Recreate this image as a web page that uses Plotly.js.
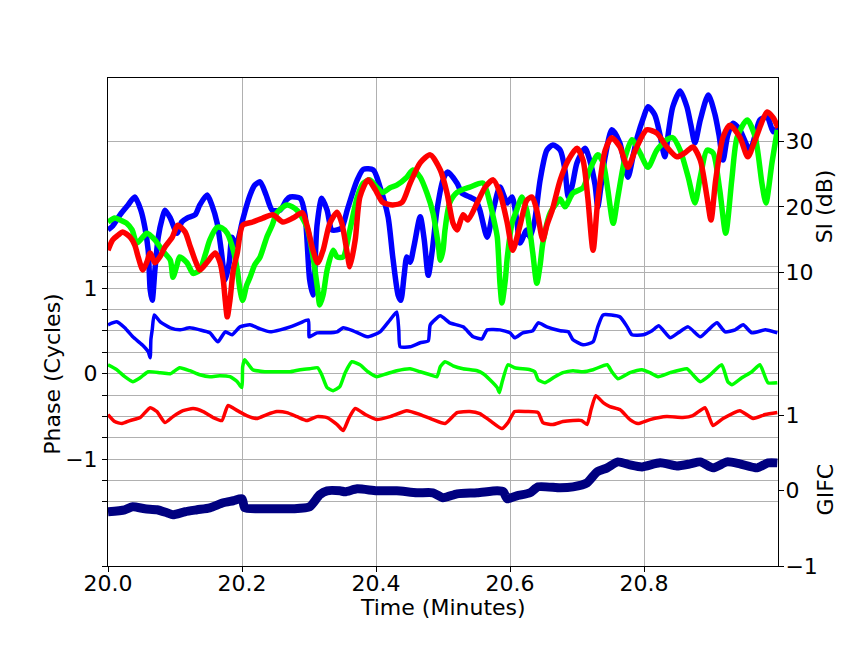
<!DOCTYPE html>
<html><head><meta charset="utf-8">
<script src="https://cdn.plot.ly/plotly-3.0.1.min.js"></script>
<style>html,body{margin:0;padding:0;background:#fff}#chart{width:864px;height:648px}</style>
</head><body><div id="chart"></div>
<script>
// ---- SI (dB) series ----
const siBlueT = [20.000,20.007,20.018,20.030,20.040,20.049,20.055,20.060,20.063,20.066,20.070,20.075,20.081,20.085,20.093,20.103,20.110,20.118,20.130,20.137,20.148,20.155,20.163,20.169,20.175,20.181,20.185,20.190,20.194,20.201,20.212,20.219,20.227,20.236,20.245,20.257,20.266,20.272,20.287,20.294,20.301,20.306,20.312,20.319,20.327,20.334,20.342,20.349,20.357,20.364,20.372,20.381,20.396,20.406,20.418,20.425,20.433,20.437,20.442,20.446,20.451,20.457,20.466,20.472,20.478,20.484,20.491,20.500,20.507,20.521,20.528,20.540,20.549,20.555,20.566,20.575,20.585,20.596,20.603,20.610,20.615,20.625,20.630,20.637,20.645,20.655,20.664,20.675,20.682,20.687,20.693,20.700,20.712,20.719,20.727,20.731,20.736,20.742,20.752,20.764,20.776,20.784,20.790,20.799,20.806,20.816,20.824,20.831,20.837,20.843,20.854,20.864,20.870,20.876,20.884,20.896,20.906,20.912,20.918,20.925,20.933,20.943,20.958,20.966,20.973,20.984,20.993,21.000];
const siBlue = [16.5,17.1,18.8,20.3,21.5,19.5,16.9,13.4,7.4,5.8,10.4,15.4,18.3,19.5,18.3,16.0,17.7,18.3,18.8,20.3,21.8,20.3,17.5,13.4,8.9,11.6,15.4,14.2,15.0,18.0,21.8,23.3,23.8,21.8,19.5,19.5,21.0,21.5,21.3,18.8,8.9,6.6,17.2,21.3,19.5,16.5,16.5,16.8,19.5,21.8,24.1,25.7,25.6,23.0,18.5,12.4,6.6,5.8,9.6,12.4,11.6,14.2,18.5,15.0,9.6,13.4,19.5,24.1,25.3,23.6,22.1,21.5,21.0,19.5,15.4,19.5,23.0,20.6,21.5,18.0,14.5,16.5,15.4,18.0,24.1,28.6,29.4,28.6,25.6,21.5,23.3,26.7,28.9,27.1,23.3,20.0,23.3,27.6,31.7,29.7,24.5,27.9,30.6,33.5,35.2,34.0,30.9,27.6,31.7,35.2,37.6,35.2,32.4,29.7,33.2,37.0,34.0,30.9,27.1,30.9,32.7,31.7,28.6,30.9,33.2,33.6,31.4,32.1];

const siGreenT = [20.000,20.010,20.018,20.028,20.036,20.043,20.051,20.058,20.070,20.081,20.093,20.097,20.103,20.107,20.118,20.127,20.137,20.145,20.152,20.163,20.170,20.178,20.187,20.193,20.197,20.201,20.207,20.212,20.219,20.227,20.237,20.245,20.252,20.267,20.282,20.297,20.306,20.313,20.316,20.321,20.327,20.336,20.342,20.351,20.361,20.372,20.381,20.391,20.401,20.410,20.421,20.431,20.446,20.455,20.466,20.476,20.485,20.493,20.496,20.500,20.503,20.510,20.521,20.540,20.560,20.570,20.576,20.581,20.585,20.588,20.593,20.596,20.603,20.610,20.618,20.625,20.634,20.640,20.645,20.649,20.660,20.670,20.675,20.682,20.694,20.709,20.719,20.731,20.739,20.746,20.754,20.761,20.772,20.782,20.794,20.806,20.819,20.834,20.843,20.854,20.866,20.876,20.884,20.894,20.903,20.913,20.922,20.931,20.939,20.954,20.966,20.976,20.982,20.991,20.999];
const siGreen = [17.7,18.3,18.0,17.5,16.5,14.5,15.3,16.0,15.0,13.4,11.9,9.3,11.2,12.4,11.5,9.9,10.4,12.7,15.0,16.9,16.8,16.0,13.4,10.4,7.4,5.8,8.1,9.3,11.2,12.4,15.4,17.2,19.1,20.3,19.5,16.9,12.4,7.4,5.1,6.6,10.4,13.4,12.4,12.4,16.5,21.5,23.6,24.1,23.0,22.2,22.9,23.3,24.5,25.6,24.5,22.1,19.1,14.2,11.9,13.4,16.5,20.6,22.2,23.0,23.6,20.6,18.0,15.4,8.4,5.4,8.9,12.4,17.5,19.5,21.5,19.5,13.0,8.4,11.2,14.5,19.1,20.6,21.2,20.0,22.1,22.9,25.6,27.9,26.7,22.6,17.5,21.5,27.6,30.2,28.2,26.0,28.6,30.2,30.5,28.6,24.5,20.6,24.5,28.6,28.2,22.6,16.0,24.1,30.6,33.2,30.6,23.6,20.6,26.7,31.7];

const siRedT = [20.000,20.007,20.015,20.022,20.033,20.040,20.045,20.052,20.058,20.063,20.070,20.078,20.085,20.096,20.104,20.115,20.122,20.130,20.137,20.148,20.160,20.167,20.172,20.175,20.178,20.182,20.187,20.193,20.201,20.216,20.231,20.246,20.261,20.276,20.290,20.297,20.306,20.313,20.321,20.331,20.342,20.349,20.357,20.361,20.369,20.376,20.388,20.399,20.410,20.425,20.439,20.451,20.466,20.481,20.496,20.506,20.515,20.521,20.530,20.537,20.551,20.563,20.575,20.585,20.596,20.604,20.615,20.625,20.633,20.640,20.649,20.655,20.663,20.675,20.687,20.700,20.709,20.716,20.724,20.731,20.742,20.752,20.764,20.776,20.787,20.804,20.819,20.834,20.849,20.861,20.873,20.884,20.894,20.900,20.907,20.918,20.928,20.943,20.955,20.966,20.984,20.993,21.000];
const siRed = [13.4,15.0,15.7,16.2,15.4,14.2,12.4,10.4,11.6,13.0,11.5,12.5,13.9,15.4,17.2,16.2,14.2,11.9,10.4,11.6,13.0,11.6,8.9,5.8,3.3,5.8,10.4,13.0,17.2,17.7,18.3,18.8,17.7,18.3,19.1,17.2,13.4,11.5,13.4,17.5,19.2,17.5,13.0,10.9,15.0,21.5,24.1,22.6,20.7,20.3,20.7,23.6,26.7,27.9,25.6,22.1,17.5,16.5,18.8,18.0,20.6,23.0,24.1,22.1,17.5,13.4,17.2,21.0,21.5,19.5,15.0,17.2,19.5,24.1,27.1,28.9,27.1,21.5,13.4,21.0,28.6,30.5,29.1,26.0,28.6,31.7,31.2,29.1,27.6,28.2,29.1,27.1,21.5,18.0,24.1,30.6,32.4,30.6,27.6,30.2,34.4,33.5,32.0];

// ---- Phase (Cycles) series ----
const phBlueT = [20.000,20.013,20.025,20.037,20.051,20.060,20.063,20.064,20.066,20.069,20.078,20.093,20.107,20.122,20.137,20.152,20.164,20.175,20.185,20.197,20.212,20.227,20.242,20.257,20.272,20.287,20.299,20.300,20.301,20.312,20.327,20.342,20.351,20.366,20.387,20.406,20.421,20.431,20.434,20.436,20.451,20.466,20.478,20.481,20.496,20.510,20.530,20.545,20.558,20.566,20.585,20.600,20.607,20.619,20.634,20.642,20.655,20.675,20.687,20.694,20.709,20.724,20.731,20.739,20.764,20.775,20.782,20.799,20.812,20.822,20.839,20.851,20.866,20.884,20.896,20.909,20.921,20.936,20.948,20.961,20.981,20.999];
const phBlue = [0.572,0.607,0.537,0.432,0.338,0.257,0.187,0.397,0.513,0.688,0.607,0.537,0.513,0.537,0.513,0.478,0.373,0.490,0.455,0.548,0.572,0.525,0.490,0.513,0.548,0.595,0.630,0.432,0.432,0.478,0.478,0.490,0.537,0.502,0.432,0.490,0.630,0.723,0.513,0.315,0.315,0.362,0.385,0.572,0.677,0.595,0.548,0.432,0.408,0.513,0.513,0.478,0.420,0.478,0.502,0.595,0.548,0.502,0.490,0.397,0.338,0.373,0.548,0.688,0.665,0.548,0.455,0.455,0.502,0.560,0.420,0.478,0.548,0.432,0.513,0.595,0.490,0.513,0.572,0.478,0.513,0.478];

const phGreenT = [20.000,20.013,20.025,20.037,20.048,20.060,20.078,20.093,20.107,20.122,20.137,20.152,20.167,20.182,20.193,20.197,20.200,20.201,20.204,20.216,20.234,20.252,20.272,20.287,20.301,20.313,20.319,20.327,20.336,20.346,20.354,20.364,20.376,20.388,20.401,20.416,20.431,20.451,20.466,20.481,20.491,20.496,20.503,20.515,20.530,20.551,20.560,20.570,20.581,20.584,20.588,20.597,20.607,20.630,20.637,20.642,20.652,20.667,20.679,20.694,20.709,20.724,20.745,20.752,20.761,20.779,20.797,20.809,20.821,20.839,20.864,20.873,20.884,20.899,20.916,20.925,20.931,20.946,20.961,20.973,20.985,20.999];
const phGreen = [0.105,0.047,-0.035,-0.093,-0.047,0.023,0.012,0,0.070,0.035,-0.012,-0.035,-0.023,-0.035,-0.093,-0.140,-0.163,0.082,0.163,0.047,0.023,0.023,0.023,0.047,0.058,0.070,-0.012,-0.163,-0.198,-0.152,0.012,0.140,0.105,0.023,-0.035,0,0.035,0.058,0.023,-0.012,-0.035,0.082,0.140,0.093,0.058,0.035,0,-0.070,-0.163,-0.222,-0.105,0.105,0.070,0.047,0.023,-0.070,-0.105,-0.035,0.012,0.035,0.023,0.047,0.105,0.023,-0.058,0.012,0.047,0.012,-0.035,0.012,0.058,-0.012,-0.093,-0.012,0.105,-0.093,-0.128,-0.047,0.023,0.105,-0.105,-0.105];

const phRedT = [20.000,20.010,20.021,20.033,20.048,20.063,20.073,20.085,20.097,20.112,20.127,20.142,20.157,20.170,20.179,20.193,20.207,20.222,20.237,20.252,20.267,20.282,20.297,20.312,20.327,20.342,20.351,20.360,20.369,20.384,20.401,20.421,20.446,20.466,20.485,20.503,20.521,20.540,20.555,20.570,20.588,20.597,20.607,20.625,20.642,20.649,20.664,20.679,20.694,20.707,20.715,20.721,20.728,20.739,20.749,20.764,20.779,20.791,20.809,20.834,20.858,20.873,20.891,20.897,20.903,20.918,20.943,20.963,20.981,20.999];
const phRed = [-0.478,-0.560,-0.583,-0.548,-0.513,-0.397,-0.443,-0.572,-0.502,-0.432,-0.408,-0.443,-0.513,-0.548,-0.373,-0.432,-0.490,-0.525,-0.478,-0.443,-0.455,-0.502,-0.548,-0.502,-0.513,-0.595,-0.665,-0.513,-0.408,-0.478,-0.537,-0.502,-0.432,-0.478,-0.537,-0.583,-0.455,-0.443,-0.467,-0.548,-0.642,-0.572,-0.443,-0.443,-0.455,-0.572,-0.595,-0.560,-0.548,-0.548,-0.595,-0.420,-0.257,-0.338,-0.385,-0.420,-0.537,-0.583,-0.537,-0.502,-0.513,-0.490,-0.397,-0.502,-0.607,-0.525,-0.432,-0.525,-0.478,-0.455];

// ---- GIFC series ----
const gifcT = [20.000,20.025,20.037,20.055,20.073,20.088,20.097,20.115,20.133,20.152,20.172,20.187,20.200,20.204,20.224,20.246,20.276,20.301,20.316,20.327,20.346,20.354,20.372,20.401,20.431,20.461,20.485,20.500,20.521,20.551,20.581,20.590,20.596,20.610,20.630,20.642,20.675,20.694,20.715,20.730,20.745,20.761,20.779,20.797,20.824,20.849,20.869,20.884,20.903,20.924,20.943,20.969,20.985,20.999];
const gifc = [-0.281,-0.255,-0.215,-0.242,-0.255,-0.295,-0.321,-0.281,-0.255,-0.229,-0.162,-0.136,-0.110,-0.229,-0.242,-0.242,-0.242,-0.215,-0.057,-0.004,-0.004,-0.017,0.022,-0.004,-0.004,-0.030,-0.030,-0.096,-0.044,-0.030,-0.004,-0.017,-0.110,-0.070,-0.030,0.049,0.036,0.049,0.102,0.247,0.300,0.379,0.340,0.313,0.366,0.326,0.353,0.379,0.300,0.379,0.353,0.300,0.366,0.366];

// ---- axis ticks ----
const xTickVals = [20.0, 20.2, 20.4, 20.6, 20.8];
const xTickText = ['20.0', '20.2', '20.4', '20.6', '20.8'];
const phTickVals = [-2.25, -1.5, -1.25, -1, -0.75, -0.5, -0.25, 0, 0.25, 0.5, 0.75, 1, 1.25];
const phTickText = ['', '', '', '\u22121', '', '', '', '0', '', '', '', '1', ''];
const siTickVals = [10, 20, 30];
const gifcTickVals = [-1, 0, 1];
const gifcTickText = ['\u22121', '0', '1'];

const FONT = 'DejaVu Sans, sans-serif';
const GRID = '#b0b0b0';

function tr(x, y, color, width, yaxis, smooth) {
  return {x: x, y: y, type: 'scatter', mode: 'lines', yaxis: yaxis,
    line: {color: color, width: width, shape: 'spline', smoothing: smooth},
    hoverinfo: 'skip', showlegend: false};
}

const data = [
  tr(siBlueT, siBlue, '#0000ff', 5.5, 'y2', 0.7),
  tr(siGreenT, siGreen, '#00ff00', 5.5, 'y2', 0.7),
  tr(siRedT, siRed, '#ff0000', 5.5, 'y2', 0.7),
  tr(phBlueT, phBlue, '#0000ff', 3.5, 'y', 0.5),
  tr(phGreenT, phGreen, '#00ff00', 3.5, 'y', 0.5),
  tr(phRedT, phRed, '#ff0000', 3.5, 'y', 0.5),
  tr(gifcT, gifc, '#000080', 9, 'y3', 0.6)
];

const layout = {
  width: 864, height: 648,
  margin: {l: 108, r: 86, t: 78, b: 82},
  paper_bgcolor: '#ffffff', plot_bgcolor: '#ffffff',
  font: {family: FONT, size: 22, color: '#000000'},
  showlegend: false,
  xaxis: {
    range: [20, 21], tickvals: xTickVals, ticktext: xTickText,
    showgrid: true, gridcolor: GRID, gridwidth: 1,
    showline: true, linecolor: '#000000', linewidth: 1, mirror: true,
    ticks: 'outside', ticklen: 5, tickcolor: '#000000', ticklabelstandoff: -7,
    zeroline: false, automargin: false
  },
  yaxis: {
    range: [-2.25, 3.46], tickvals: phTickVals, ticktext: phTickText,
    showgrid: true, gridcolor: GRID, gridwidth: 1,
    showline: true, linecolor: '#000000', linewidth: 1,
    ticks: 'outside', ticklen: 5, tickcolor: '#000000',
    zeroline: false, automargin: false
  },
  yaxis2: {
    overlaying: 'y', side: 'right', anchor: 'x',
    range: [-34.54, 39.57], tickvals: siTickVals,
    showgrid: true, gridcolor: GRID, gridwidth: 1,
    showline: true, linecolor: '#000000', linewidth: 1,
    ticks: 'outside', ticklen: 5, tickcolor: '#000000', ticklabelstandoff: -3,
    zeroline: false, automargin: false
  },
  yaxis3: {
    overlaying: 'y', side: 'right', anchor: 'x',
    range: [-1, 5.464], tickvals: gifcTickVals, ticktext: gifcTickText,
    showgrid: false, showline: false,
    ticks: 'outside', ticklen: 5, tickcolor: '#000000', ticklabelstandoff: -3,
    zeroline: false, automargin: false
  },
  annotations: [
    {text: 'Time (Minutes)', xref: 'paper', yref: 'paper', x: 0.5, y: -0.086,
     showarrow: false, xanchor: 'center', yanchor: 'middle', font: {size: 22}},
    {text: 'Phase (Cycles)', xref: 'paper', yref: 'paper', x: -0.0828, y: 0.393,
     textangle: -90, showarrow: false, xanchor: 'center', yanchor: 'middle', font: {size: 22}},
    {text: 'SI (dB)', xref: 'paper', yref: 'paper', x: 1.0694, y: 0.738,
     textangle: -90, showarrow: false, xanchor: 'center', yanchor: 'middle', font: {size: 22}},
    {text: 'GIFC', xref: 'paper', yref: 'paper', x: 1.0709, y: 0.156,
     textangle: -90, showarrow: false, xanchor: 'center', yanchor: 'middle', font: {size: 22}}
  ]
};

Plotly.newPlot('chart', data, layout, {staticPlot: true, displayModeBar: false});
</script>
</body></html>
